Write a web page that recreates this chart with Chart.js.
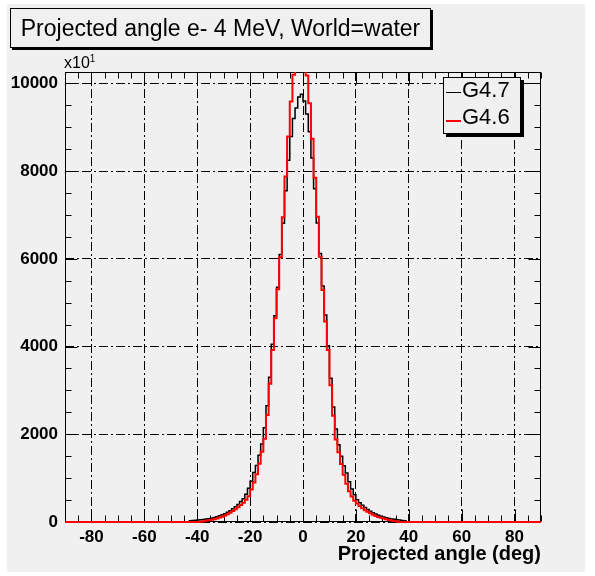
<!DOCTYPE html>
<html>
<head>
<meta charset="utf-8">
<title>Projected angle e- 4 MeV, World=water</title>
<script src="https://cdn.jsdelivr.net/npm/chart.js@4.4.1/dist/chart.umd.min.js"></script>
<style>
    body { margin: 0; background: #fff; font-family: "Liberation Sans", Arial, sans-serif; color: #000; }
    #wrap { position: relative; width: 595px; height: 576px; overflow: hidden; }
    #pad { position: absolute; left: 7px; top: 4px; width: 578px; height: 568px; background: #f0f0f0; }
    #chart { position: absolute; left: 0; top: 0; }
    #title {
        position: absolute; left: 10px; top: 8px; width: 419px; height: 38px;
        border: 1px solid #000; box-shadow: 2px 2px 0 #000; background: #f0f0f0;
        font-size: 23px; line-height: 38px; text-align: center; white-space: nowrap;
    }
    #expo { position: absolute; left: 64px; top: 51px; font-size: 16px; line-height: 16px; }
    #expo sup { font-size: 10px; vertical-align: 6px; }
    #legend {
        position: absolute; left: 443px; top: 77px; width: 76px; height: 55px;
        border: 1px solid #000; box-shadow: 3px 3px 0 #000; background: #f0f0f0;
    }
    .entry { position: absolute; left: 18px; font-size: 22px; line-height: 22px; }
    .sample { position: absolute; left: 2px; width: 15px; }
</style>
</head>
<body>
<div id="wrap">
    <div id="pad"></div>
    <canvas id="chart" width="595" height="576"></canvas>
    <div id="title">Projected angle e- 4 MeV, World=water</div>
    <div id="expo">x10<sup>1</sup></div>
    <div id="legend"></div>
</div>
<script>
// ============================================
// Projected angle histogram, G4.7 vs G4.6
// ============================================

const X_RANGE = [-90, 90];
const Y_RANGE = [0, 10260];
const X_TICKS = [-80, -60, -40, -20, 0, 20, 40, 60, 80];
const Y_TICKS = [0, 2000, 4000, 6000, 8000, 10000];
const X_MAJOR = 20, X_MINOR = 5;
const Y_MAJOR = 2000, Y_MINOR = 500;

// 1-degree bins, first bin starts at -45 deg (all other bins are empty)
const BIN_START = -45;
const SERIES_NAMES = ['G4.7', 'G4.6'];
const SERIES_COLORS = ['#000000', '#ff0000'];

const G47 = [
    0, 0, 0, 26, 34, 40, 46, 52, 58, 66,
    74, 86, 104, 122, 142, 165, 190, 220, 255, 300,
    345, 400, 470, 530, 630, 770, 930, 1130, 1290, 1520,
    1780, 2150, 2650, 3300, 4050, 4700, 5350, 6100, 6810, 7550,
    8250, 8790, 9200, 9440, 9690,
    9750, 9600, 9300, 8900, 8300, 7600, 6820, 6120, 5380, 4720,
    4020, 3280, 2620, 2120, 1760, 1500, 1280, 1120, 920, 750,
    620, 510, 440, 380, 330, 285, 245, 210, 180, 155,
    133, 112, 95, 80, 70, 60, 52, 44, 36, 26,
    0, 0, 0, 0, 0
];

const G46 = [
    0, 0, 0, 0, 0, 0, 0, 6, 16, 27,
    38, 50, 65, 82, 100, 122, 148, 178, 212, 250,
    290, 335, 385, 440, 505, 585, 740, 900, 1090, 1330,
    1600, 1900, 2440, 3150, 3920, 4645, 5306, 6036, 6950, 7875,
    8790, 9585, 10200, 10900, 11200,
    11300, 10950, 10180, 9550, 8740, 7850, 6960, 6050, 5290, 4570,
    3920, 3120, 2420, 1880, 1590, 1320, 1080, 870, 700, 580,
    485, 420, 365, 315, 270, 232, 198, 165, 138, 115,
    95, 78, 62, 48, 36, 25, 14, 0, 0, 0,
    0, 0, 0, 0, 0
];

function histPoints(values) {
    const pts = [{ x: X_RANGE[0], y: 0 }];
    values.forEach((v, i) => pts.push({ x: BIN_START + i, y: v }));
    pts.push({ x: BIN_START + values.length, y: 0 });
    pts.push({ x: X_RANGE[1], y: 0 });
    return pts;
}

// frame box and inward ticks on all four sides, ROOT style
const rootFrame = {
    id: 'rootFrame',
    beforeDatasetsDraw(chart) {
        const { ctx, chartArea: a, scales: { x, y } } = chart;
        const L = Math.round(a.left) + 0.5, R = Math.round(a.right) - 0.5;
        const T = Math.round(a.top) + 0.5, B = Math.round(a.bottom) - 0.5;
        ctx.save();
        ctx.strokeStyle = '#000';
        ctx.lineWidth = 1;
        ctx.beginPath();
        for (let v = X_RANGE[0]; v <= X_RANGE[1]; v += X_MINOR) {
            const px = Math.round(x.getPixelForValue(v)) + 0.5;
            const len = v % X_MAJOR === 0 ? 12 : 6;
            ctx.moveTo(px, B); ctx.lineTo(px, B - len);
            ctx.moveTo(px, T); ctx.lineTo(px, T + len);
        }
        for (let v = 0; v <= Y_RANGE[1]; v += Y_MINOR) {
            const py = Math.round(y.getPixelForValue(v)) + 0.5;
            const len = v % Y_MAJOR === 0 ? 12 : 6;
            ctx.moveTo(L, py); ctx.lineTo(L + len, py);
            ctx.moveTo(R, py); ctx.lineTo(R - len, py);
        }
        ctx.stroke();
        ctx.strokeRect(L, T, R - L, B - T);
        ctx.restore();
    }
};

function renderLegend() {
    const box = document.getElementById('legend');
    box.innerHTML = SERIES_NAMES.map((name, i) => `
        <div class="sample" style="top:${14 + i * 28}px;height:${i ? 2 : 1}px;background:${SERIES_COLORS[i]}"></div>
        <div class="entry" style="top:${1 + i * 27}px">${name}</div>
    `).join('');
}

function renderChart() {
    const tickFont = { family: '"Liberation Sans", Arial, sans-serif', size: 17, weight: 'bold' };
    const gridOpts = { color: '#000', lineWidth: 1, drawTicks: false };
    const borderOpts = { display: false, dash: [9, 3, 2, 3] };

    new Chart(document.getElementById('chart'), {
        type: 'line',
        data: {
            datasets: [
                {
                    label: SERIES_NAMES[1], data: histPoints(G46), order: 0,
                    borderColor: SERIES_COLORS[1], borderWidth: 2
                },
                {
                    label: SERIES_NAMES[0], data: histPoints(G47), order: 1,
                    borderColor: SERIES_COLORS[0], borderWidth: 1.5
                }
            ].map(d => Object.assign(d, {
                stepped: 'after', pointRadius: 0, fill: false,
                clip: { left: 1, right: 1, top: 0, bottom: 2 }
            }))
        },
        options: {
            responsive: false,
            devicePixelRatio: 1,
            animation: false,
            layout: { padding: { left: 0, right: 54, top: 72, bottom: 0 } },
            plugins: { legend: { display: false }, tooltip: { enabled: false } },
            scales: {
                x: {
                    type: 'linear', min: X_RANGE[0], max: X_RANGE[1],
                    afterBuildTicks: s => { s.ticks = X_TICKS.map(value => ({ value })); },
                    afterFit: s => { s.height = 54; },
                    grid: gridOpts, border: borderOpts,
                    ticks: { font: tickFont, color: '#000', padding: 5, maxRotation: 0, callback: v => String(v) },
                    title: {
                        display: true, text: 'Projected angle (deg)', align: 'end', color: '#000',
                        font: { family: '"Liberation Sans", Arial, sans-serif', size: 20, weight: 'bold' },
                        padding: { top: 0, bottom: 10 }
                    }
                },
                y: {
                    type: 'linear', min: Y_RANGE[0], max: Y_RANGE[1],
                    afterBuildTicks: s => { s.ticks = Y_TICKS.map(value => ({ value })); },
                    afterFit: s => { s.width = 65; },
                    grid: gridOpts, border: borderOpts,
                    ticks: { font: tickFont, color: '#000', padding: 7, callback: v => String(v) }
                }
            }
        },
        plugins: [rootFrame]
    });
}

renderLegend();
renderChart();
</script>
</body>
</html>
